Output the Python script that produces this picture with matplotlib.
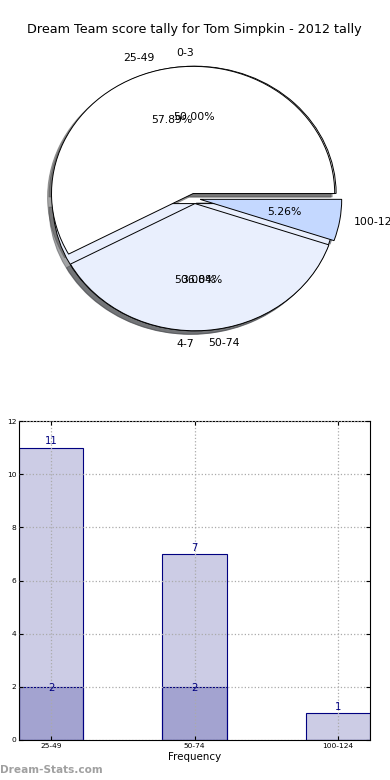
import numpy as np
import matplotlib
matplotlib.use('Agg')
import matplotlib.pyplot as plt

# pie data
ranges = ['25-49', '50-74', '100-124']
counts = [11, 7, 1]
sub_labels = ['0-3', '4-7']
sub_counts = [2, 2]
# bar data
bar_totals = [11, 7, 1]
bar_subs = [2, 2, 0]

title = 'Dream Team score tally for Tom Simpkin - 2012 tally'

W, H = 390, 780
fig = plt.figure(figsize=(W / 100, H / 100), dpi=100)


def px_axes(l, t, r, b):
    return fig.add_axes([l / W, 1 - b / H, (r - l) / W, (b - t) / H])


# ---- pie (two pies drawn on the same axes) ----
ax1 = px_axes(17.5, 39.5, 371.5, 357.5)
light = '#e9effd'
mid = '#c4d8ff'
wp = {'edgecolor': 'black', 'linewidth': 0.7}

w2, t2, p2 = ax1.pie(sub_counts, labels=sub_labels, colors=['white', light],
                     explode=[0.04, 0.04], autopct='%.2f%%', shadow=True,
                     wedgeprops=wp, textprops={'fontsize': 7.8})
ax1.pie(counts, labels=ranges, colors=['white', light, mid],
        explode=[0.04, 0.04, 0.04], autopct='%.2f%%', shadow=True,
        wedgeprops=wp, textprops={'fontsize': 7.8})
# old-style alignment: label at 270 deg sits left of the centre line
t2[1].set_ha('right')
ax1.set_aspect('auto')
ax1.set_xlim(-1.25, 1.25)
ax1.set_ylim(-1.25, 1.25)
ax1.axis('off')

fig.text(0.497, 1 - 30 / H, title, ha='center', va='center', fontsize=9.2)

# ---- bar chart ----
ax2 = px_axes(19, 421, 370, 740)
x = np.arange(len(ranges))
fc = (0, 0, 0.5, 0.2)
ax2.bar(x, bar_totals, width=0.45, color=fc, edgecolor='navy', linewidth=0.8)
ax2.bar(x, bar_subs, width=0.45, color=fc, edgecolor='navy', linewidth=0.8)

for i in range(len(x)):
    ax2.text(x[i], bar_totals[i] + 0.05, str(bar_totals[i]), ha='center', va='bottom',
             color='navy', fontsize=7.2)
    if bar_subs[i] > 0:
        ax2.text(x[i], bar_subs[i] - 0.25, str(bar_subs[i]), ha='center', va='bottom',
                 color='navy', fontsize=7.2)

ax2.set_xlim(-0.225, 2.225)
ax2.set_ylim(0, 12)
ax2.set_xticks(x)
ax2.set_xticklabels(ranges)
ax2.set_yticks(range(0, 13, 2))
ax2.tick_params(direction='in', top=True, right=True, labelsize=5.4, length=3, pad=2)
ax2.grid(True, linestyle=':', color='#aaaaaa', linewidth=0.9)
ax2.set_axisbelow(False)
ax2.set_xlabel('Frequency', fontsize=7.4, labelpad=2)
ax2.set_ylabel('Score Interval', fontsize=7.4)
ax2.yaxis.set_label_coords(-0.065, 0.5)

fig.text(0.0, 1 - 770 / H, 'Dream-Stats.com', ha='left', va='center',
         fontsize=7.6, fontweight='bold', color='#a0a0a0')

fig.savefig('out.png', dpi=100)
